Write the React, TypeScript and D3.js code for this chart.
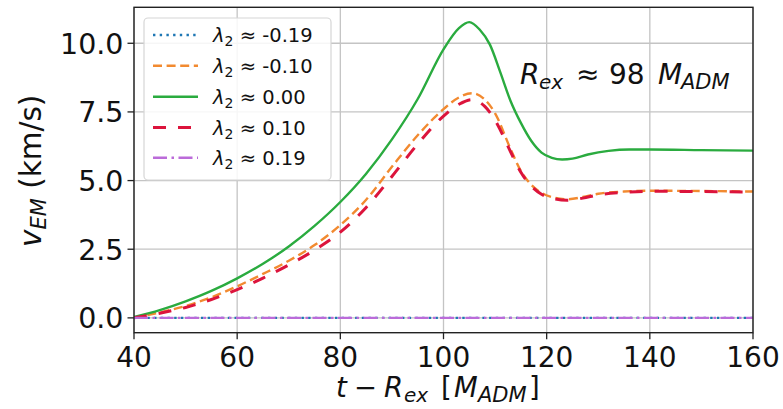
import React from "react";
import * as d3 from "d3";

const tGreen = [40, 45, 50, 55, 60, 65, 70, 75, 80, 85, 90, 95, 100, 103, 105, 107, 109, 111, 113, 115, 117, 119, 121, 123, 125, 128, 132, 136, 140, 150, 160];
const vGreen = [0.03, 0.28, 0.6, 0.98, 1.44, 1.97, 2.6, 3.35, 4.22, 5.25, 6.5, 7.97, 9.78, 10.55, 10.77, 10.5, 9.95, 8.95, 7.9, 7.1, 6.45, 6.02, 5.83, 5.77, 5.8, 5.95, 6.08, 6.13, 6.13, 6.11, 6.09];

const tPair = [40, 45, 50, 55, 60, 65, 70, 75, 80, 85, 90, 95, 100, 103, 105.5, 108, 110, 113, 115, 117, 119, 121, 124, 127, 130, 135, 140, 150, 160];
const vOrange = [0.0, 0.2, 0.43, 0.75, 1.15, 1.6, 2.08, 2.65, 3.38, 4.3, 5.5, 6.65, 7.6, 8.03, 8.18, 7.95, 7.45, 6.15, 5.35, 4.85, 4.55, 4.4, 4.32, 4.4, 4.52, 4.6, 4.63, 4.62, 4.6];
const vRed = [0.0, 0.17, 0.38, 0.67, 1.03, 1.45, 1.93, 2.47, 3.12, 4.02, 5.15, 6.33, 7.35, 7.78, 7.95, 7.7, 7.2, 6.05, 5.3, 4.8, 4.5, 4.36, 4.28, 4.36, 4.48, 4.57, 4.61, 4.6, 4.58];

const tFlat = [40, 160];
const vFlat = [0, 0];

const xTicks = [40, 60, 80, 100, 120, 140, 160];
const yTicks = [0, 2.5, 5, 7.5, 10];

const lambdaLabels = ["-0.19", "-0.10", "0.00", "0.10", "0.19"];

const FONT = "'DejaVu Sans', sans-serif";

type Series = { t: number[]; v: number[]; color: string; width: number; dash: string | null };

const series: Series[] = [
  { t: tFlat, v: vFlat, color: "#1f77b4", width: 2.4, dash: "2.4,4.3" },
  { t: tPair, v: vOrange, color: "#f28a30", width: 2.4, dash: "9,4.6" },
  { t: tGreen, v: vGreen, color: "#2aab3f", width: 2.4, dash: null },
  { t: tPair, v: vRed, color: "#dc143c", width: 3, dash: "13,12" },
  { t: tFlat, v: vFlat, color: "#bb6bd9", width: 2.4, dash: "14,4.5,2.5,4.5" },
];

export default function App() {
  const W = 783, H = 409;
  const left = 134, right = 753, top = 7.3, bottom = 332.7;
  const x = d3.scaleLinear().domain([40, 160]).range([left, right]);
  const y = d3.scaleLinear().domain([-0.54, 11.31]).range([bottom, top]);

  const line = (s: Series) =>
    d3
      .line<number>()
      .x((_, i) => x(s.t[i]))
      .y((d) => y(d))
      .curve(d3.curveMonotoneX)(s.v) || "";

  const legendY = [35, 65.7, 96.8, 127.5, 157.7];

  return (
    <svg width={W} height={H} style={{ position: "absolute", left: 0, top: 0, background: "#fff" }} fontFamily={FONT}>
      <rect x={0} y={0} width={W} height={H} fill="#fff" />
      <defs>
        <clipPath id="plot">
          <rect x={left} y={top} width={right - left} height={bottom - top} />
        </clipPath>
      </defs>
      {xTicks.map((t) => (
        <line key={"gx" + t} x1={x(t)} x2={x(t)} y1={top} y2={bottom} stroke="#c4c4c4" strokeWidth={1.3} />
      ))}
      {yTicks.map((t) => (
        <line key={"gy" + t} x1={left} x2={right} y1={y(t)} y2={y(t)} stroke="#c4c4c4" strokeWidth={1.3} />
      ))}
      <g clipPath="url(#plot)">
        {series.map((s, i) => (
          <path
            key={"s" + i}
            d={line(s)}
            fill="none"
            stroke={s.color}
            strokeWidth={s.width}
            strokeDasharray={s.dash || undefined}
          />
        ))}
      </g>
      <rect x={left} y={top} width={right - left} height={bottom - top} fill="none" stroke="#222" strokeWidth={1.4} />
      {xTicks.map((t) => (
        <g key={"tx" + t}>
          <line x1={x(t)} x2={x(t)} y1={bottom} y2={bottom + 6.5} stroke="#222" strokeWidth={1.3} />
          <text x={x(t)} y={366.5} textAnchor="middle" fontSize={28} fill="#111">
            {t}
          </text>
        </g>
      ))}
      {yTicks.map((t) => (
        <g key={"ty" + t}>
          <line x1={left - 6.5} x2={left} y1={y(t)} y2={y(t)} stroke="#222" strokeWidth={1.3} />
          <text x={123.5} y={y(t) + 10.3} textAnchor="end" fontSize={28.5} fill="#111">
            {t.toFixed(1)}
          </text>
        </g>
      ))}
      {/* x label */}
      <g fontSize={27.5} fill="#111">
        <text x={336} y={397} fontStyle="italic">t</text>
        <text x={354} y={397}>−</text>
        <text x={384} y={397} fontStyle="italic">R</text>
        <text x={404} y={402} fontStyle="italic" fontSize={20}>ex</text>
        <text x={441} y={397}>[</text>
        <text x={454} y={397} fontStyle="italic">M</text>
        <text x={478} y={402} fontStyle="italic" fontSize={21}>ADM</text>
        <text x={529} y={397}>]</text>
      </g>
      {/* y label */}
      <text transform={`translate(41,247) rotate(-90)`} textAnchor="start" fontSize={29.5} fill="#111">
        <tspan fontStyle="italic">v</tspan>
        <tspan fontStyle="italic" fontSize={21} dy={5}>EM</tspan>
        <tspan dy={-5}> (km/s)</tspan>
      </text>
      {/* annotation */}
      <g fontSize={28} fill="#111">
        <text x={520} y={84} fontStyle="italic">R</text>
        <text x={539} y={89} fontStyle="italic" fontSize={20}>ex</text>
        <text x={576} y={84}>≈</text>
        <text x={609} y={84}>98</text>
        <text x={658} y={84} fontStyle="italic">M</text>
        <text x={681} y={89} fontStyle="italic" fontSize={21}>ADM</text>
      </g>
      {/* legend */}
      <rect x={144} y={18} width={187} height={162} rx={4} fill="#fff" fillOpacity={0.85} stroke="#d6d6d6" strokeWidth={1.2} />
      {series.map((s, i) => (
        <g key={"lg" + i}>
          <line
            x1={153}
            x2={198}
            y1={legendY[i]}
            y2={legendY[i]}
            stroke={s.color}
            strokeWidth={s.width}
            strokeDasharray={s.dash || undefined}
          />
          <text x={213} y={legendY[i] + 7} fontSize={19.5} fill="#111">
            <tspan fontStyle="italic">λ</tspan>
            <tspan fontSize={14} dy={4}>2</tspan>
            <tspan dy={-4}> ≈ {lambdaLabels[i]}</tspan>
          </text>
        </g>
      ))}
    </svg>
  );
}
